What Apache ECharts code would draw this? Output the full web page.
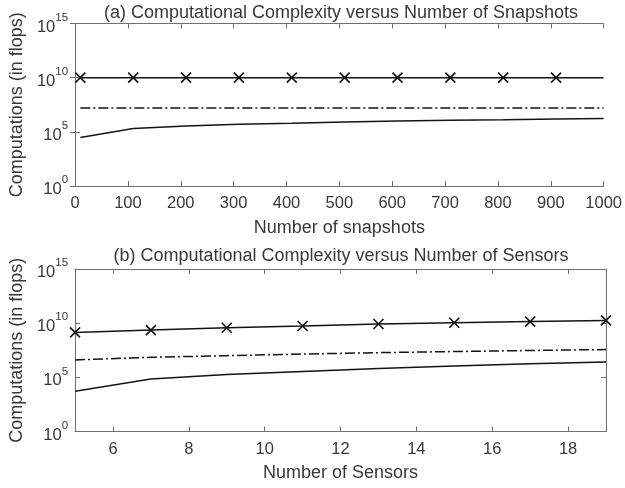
<!DOCTYPE html>
<html>
<head>
<meta charset="utf-8">
<script src="https://cdn.jsdelivr.net/npm/echarts@6/dist/echarts.min.js"></script>
<style>
  html, body { margin: 0; padding: 0; background: #fff; }
  #chart { width: 625px; height: 488px; }
</style>
</head>
<body>
<div id="chart"></div>
<script>
// ---- Data ----
const snapshots = [10, 110, 210, 310, 410, 510, 610, 710, 810, 910, 1000];
const snapMarked = [1e10, 1e10, 1e10, 1e10, 1e10, 1e10, 1e10, 1e10, 1e10, 1e10, 1e10];
const snapDashDot = [1.6e7, 1.6e7, 1.6e7, 1.6e7, 1.6e7, 1.6e7, 1.6e7, 1.6e7, 1.6e7, 1.6e7, 1.6e7];
const snapSolid = [3.0e4, 2.0e5, 3.5e5, 5.0e5, 6.2e5, 8.1e5, 1.0e6, 1.15e6, 1.3e6, 1.5e6, 1.7e6];

const sensors = [5, 7, 9, 11, 13, 15, 17, 19];
const sensMarked = [1.4e9, 2.3e9, 3.8e9, 5.5e9, 8.3e9, 1.1e10, 1.4e10, 1.8e10];
const sensDashDot = [4.0e6, 7.1e6, 1.0e7, 1.4e7, 1.9e7, 2.4e7, 3.0e7, 3.7e7];
const sensSolid = [5.2e3, 7.1e4, 1.8e5, 3.5e5, 6.6e5, 1.1e6, 1.8e6, 2.6e6];

const snapTicks = [0, 100, 200, 300, 400, 500, 600, 700, 800, 900, 1000];
const sensTicks = [6, 8, 10, 12, 14, 16, 18];
const yTickExponents = [0, 5, 10, 15];

const titles = ['(a) Computational Complexity versus Number of Snapshots',
                '(b) Computational Complexity versus Number of Sensors'];
const xNames = ['Number of snapshots', 'Number of Sensors'];
const yName = 'Computations (in flops)';

// ---- Styles ----
const FONT = '"Liberation Sans", Arial, sans-serif';
const TXT = '#383838';
const AX = '#6e6e6e';
const LINE = '#141414';
const XMARK = 'path://M0 0L10 10M10 0L0 10';

const grids = [
  { left: 69, width: 537, top: 23.5, height: 162.5 },
  { left: 69, width: 537, top: 269, height: 162.5 }
];

function pairs(xs, ys) { return xs.map((x, i) => [x, ys[i]]); }

const yMin = Math.pow(10, yTickExponents[0]);
const yMax = Math.pow(10, yTickExponents[yTickExponents.length - 1]);

function yAxisFor(gi, right) {
  return {
    type: 'log', logBase: 10, gridIndex: gi, min: yMin, max: yMax, interval: 5,
    position: right ? 'right' : 'left',
    name: right ? '' : yName, nameLocation: 'middle', nameGap: 46,
    nameTextStyle: { fontFamily: FONT, fontSize: 18, color: TXT },
    axisLine: { show: true, lineStyle: { color: AX, width: 1 } },
    axisTick: { show: true, inside: true, length: 5, lineStyle: { color: AX } },
    minorTick: { show: false },
    splitLine: { show: false },
    axisLabel: {
      show: !right, margin: 7, fontFamily: FONT, color: TXT,
      formatter: v => '{b|10}{s|' + Math.round(Math.log10(v)) + '}',
      rich: {
        b: { fontFamily: FONT, fontSize: 16.5, color: TXT, verticalAlign: 'bottom', lineHeight: 24 },
        s: { fontFamily: FONT, fontSize: 11.5, color: TXT, verticalAlign: 'top', lineHeight: 24 }
      }
    }
  };
}

function xAxisFor(gi, top, min, max, ticks, name) {
  return {
    type: 'value', gridIndex: gi, min: min, max: max,
    position: top ? 'top' : 'bottom',
    name: top ? '' : name, nameLocation: 'middle', nameGap: 33,
    nameTextStyle: { fontFamily: FONT, fontSize: 18, color: TXT },
    axisLine: { show: true, onZero: false, lineStyle: { color: AX, width: 1 } },
    axisTick: { show: true, inside: true, length: 5, customValues: ticks, lineStyle: { color: AX } },
    splitLine: { show: false },
    axisLabel: {
      show: !top, customValues: ticks, margin: 9, fontFamily: FONT, fontSize: 16.5, color: TXT,
      formatter: v => String(v)
    }
  };
}

function markedSeries(xi, yi, xs, ys, lastNoSymbol) {
  return {
    type: 'line', xAxisIndex: xi, yAxisIndex: yi,
    data: xs.map((x, i) => {
      const item = { value: [x, ys[i]] };
      if (lastNoSymbol && i === xs.length - 1) item.symbol = 'none';
      return item;
    }),
    symbol: XMARK, symbolSize: 10, showSymbol: true,
    lineStyle: { color: LINE, width: 1.5 },
    itemStyle: { color: LINE, borderColor: LINE, borderWidth: 1.6 },
    emphasis: { disabled: true }, animation: false, z: 3
  };
}
function plainSeries(xi, yi, xs, ys, dash) {
  return {
    type: 'line', xAxisIndex: xi, yAxisIndex: yi,
    data: pairs(xs, ys), showSymbol: false, symbol: 'none',
    lineStyle: { color: LINE, width: 1.5, type: dash ? [10, 3, 2, 3] : 'solid' },
    emphasis: { disabled: true }, animation: false
  };
}

const option = {
  backgroundColor: '#ffffff',
  animation: false,
  title: titles.map((t, i) => ({
    text: t, left: 336, top: i === 0 ? -1 : 242, textAlign: 'center',
    textStyle: { fontFamily: FONT, fontSize: 18, fontWeight: 'normal', color: TXT }
  })),
  grid: grids,
  xAxis: [
    xAxisFor(0, false, 0, 1000, snapTicks, xNames[0]),
    xAxisFor(0, true, 0, 1000, snapTicks, ''),
    xAxisFor(1, false, 5, 19, sensTicks, xNames[1]),
    xAxisFor(1, true, 5, 19, sensTicks, '')
  ],
  yAxis: [ yAxisFor(0, false), yAxisFor(0, true), yAxisFor(1, false), yAxisFor(1, true) ],
  series: [
    markedSeries(0, 0, snapshots, snapMarked, true),
    plainSeries(0, 0, snapshots, snapDashDot, true),
    plainSeries(0, 0, snapshots, snapSolid, false),
    markedSeries(2, 2, sensors, sensMarked, false),
    plainSeries(2, 2, sensors, sensDashDot, true),
    plainSeries(2, 2, sensors, sensSolid, false)
  ]
};

const chart = echarts.init(document.getElementById('chart'), null, { renderer: 'canvas' });
chart.setOption(option);
</script>
</body>
</html>
